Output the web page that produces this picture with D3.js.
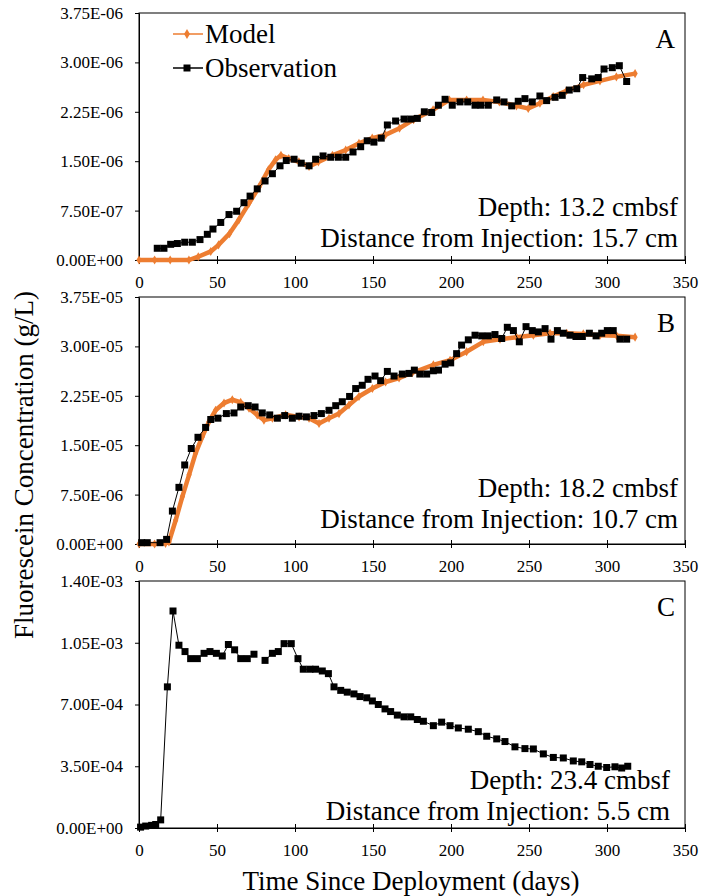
<!DOCTYPE html>
<html>
<head>
<meta charset="utf-8">
<script src="https://cdn.jsdelivr.net/npm/d3@7/dist/d3.min.js"></script>
<style>
body { margin:0; background:#fff; }
.axis path, .axis line { stroke:#000; stroke-width:1; }
</style>
</head>
<body>
<script>
// [day, concentration] ; A in 1e-6 g/L, B in 1e-5 g/L, C in 1e-3 g/L
var obsA = [[11.7,0.178],[16,0.178],[20.3,0.238],[24.6,0.25],[29.3,0.27],[34.2,0.27],[39.1,0.31],[43.8,0.39],[47.4,0.47],[52.4,0.57],
    [57.7,0.69],[62.6,0.74],[67.3,0.87],[71.2,0.97],[75.8,1.08],[80.8,1.20],[85.5,1.31],[90.4,1.43],[94.4,1.51],[99.4,1.53],
    [104,1.47],[109,1.43],[113.2,1.53],[118,1.58],[122.9,1.56],[127.8,1.56],[132.5,1.56],[137.2,1.64],[142.1,1.72],[146.3,1.81],
    [150.6,1.79],[155.3,1.85],[159.2,2.05],[164.5,2.11],[169.9,2.14],[174.2,2.14],[178.4,2.15],[182.9,2.25],[187.6,2.24],[191.9,2.35],
    [196.2,2.44],[200.8,2.35],[205.8,2.40],[210.7,2.40],[215.4,2.35],[219.2,2.35],[223.9,2.35],[229.3,2.43],[234,2.40],[238.9,2.34],
    [243.1,2.41],[247.4,2.45],[252.1,2.40],[257,2.49],[261.3,2.42],[266.7,2.47],[271.3,2.50],[275.8,2.58],[280.6,2.60],[284.4,2.77],
    [290.2,2.75],[294.4,2.77],[298.1,2.90],[303.4,2.92],[307.9,2.95],[312.6,2.71]];
var modelA = [[0,0],[10,0],[20,0],[32,0],[38,0.05],[46,0.13],[51,0.23],[58,0.40],[64,0.61],[70.5,0.86],[77,1.11],[83,1.37],
    [87.5,1.52],[91,1.59],[96,1.54],[102.5,1.49],[109,1.42],[115,1.49],[124,1.59],[132.5,1.67],[141,1.77],[149.5,1.85],[158,1.90],
    [167,2.00],[176,2.13],[188.5,2.28],[199,2.43],[210,2.43],[220.5,2.43],[231,2.40],[242,2.34],[249.5,2.30],[257,2.38],[265.5,2.48],
    [274,2.57],[285,2.66],[295.5,2.72],[306,2.78],[318,2.83]];

var obsB = [[1.7,0.02],[5.3,0.02],[13.5,0.02],[17.7,0.07],[21.4,0.50],[25.6,0.86],[29.3,1.20],[33.5,1.45],[37.8,1.62],[42.7,1.77],
    [46,1.89],[50.6,1.91],[56,1.98],[60.9,1.99],[65.2,2.08],[70,2.10],[74.4,2.08],[79,1.99],[83.8,1.96],[88.7,1.91],[93.4,1.95],
    [98.3,1.91],[102.6,1.94],[107.3,1.93],[112.2,1.95],[116.9,1.98],[121.8,2.03],[126.1,2.10],[130.3,2.16],[135,2.24],[138.9,2.36],
    [143.1,2.41],[146.8,2.50],[151.3,2.55],[154.9,2.48],[159.2,2.62],[163.5,2.55],[168.8,2.58],[173.1,2.59],[176.5,2.64],[180,2.58],
    [184.4,2.58],[188.7,2.63],[192,2.64],[196.2,2.73],[199.8,2.75],[203.6,2.89],[206.8,3.02],[211.1,3.10],[215.4,3.17],[219.7,3.16],
    [223.9,3.16],[228.2,3.18],[232.5,3.12],[236.1,3.29],[240,3.24],[243.8,3.07],[248.1,3.30],[252.1,3.24],[256,3.22],[260.3,3.27],
    [264.1,3.11],[268.2,3.24],[272,3.20],[276.3,3.17],[280.1,3.15],[284.2,3.15],[288.7,3.20],[293,3.16],[296.6,3.20],[300.2,3.24],
    [304,3.24],[308.3,3.11],[312.6,3.11]];
var modelB = [[0,0],[10,0],[17,0.01],[19.2,0.03],[23.5,0.36],[27.8,0.72],[32.1,1.05],[36.3,1.38],[40.6,1.63],[44.9,1.86],[49.1,2.03],
    [54.5,2.14],[59.8,2.19],[65.2,2.15],[70.5,2.06],[75.8,1.96],[80.1,1.88],[85.5,1.91],[94,1.96],[102.6,1.93],[109,1.91],[115.4,1.83],
    [121.8,1.91],[128.2,1.98],[134.6,2.11],[141,2.24],[149.6,2.36],[158.1,2.46],[166.7,2.52],[175.2,2.60],[188.7,2.72],[199.4,2.79],
    [210,2.92],[220.7,3.07],[231.4,3.11],[242,3.14],[252.8,3.17],[263.5,3.20],[274.2,3.20],[284.8,3.19],[295.5,3.17],[306.2,3.16],[318,3.14]];

var obsC = [[1,0.005],[4.3,0.011],[8.1,0.015],[10.7,0.02],[13.9,0.046],[18.2,0.80],[21.8,1.23],[25.6,1.036],[29.5,1.00],[33.1,0.96],
    [37.4,0.96],[41.7,0.99],[45.5,1.00],[49.6,0.99],[53.4,0.975],[57.3,1.04],[61.3,1.01],[65.2,0.96],[69.4,0.96],[73.7,0.985],[77,null],
    [80.8,0.95],[85.5,0.99],[89.3,1.00],[93,1.045],[97.6,1.045],[101.9,0.96],[105.3,0.90],[109.6,0.90],[113.2,0.90],[117.5,0.89],
    [121.4,0.875],[125,0.80],[129.3,0.78],[133.5,0.77],[137.8,0.76],[141.7,0.745],[146,0.738],[149.6,0.72],[153.4,0.70],[157.7,0.675],
    [161.3,0.66],[165.6,0.64],[169.9,0.63],[174.2,0.63],[178.4,0.615],[182.3,0.605],[188.7,0.58],[194,0.60],[199.4,0.58],[204.7,0.567],
    [211.1,0.56],[217.5,0.546],[222.9,0.52],[229.3,0.505],[234.6,0.49],[241,0.46],[247.4,0.45],[252.8,0.448],[259.2,0.42],[265.6,0.40],
    [272,0.397],[278.4,0.38],[283.8,0.375],[289.1,0.36],[294.4,0.35],[299.8,0.343],[305.1,0.347],[309.4,0.34],[313.3,0.35]];

var xTicks  = [0,50,100,150,200,250,300,350];
var yTicksAB = [0,0.75,1.5,2.25,3,3.75];
var yTicksC  = [0,0.35,0.7,1.05,1.4];
var panelLetters = ["A","B","C"];
var depthLabels  = ["Depth: 13.2 cmbsf","Depth: 18.2 cmbsf","Depth: 23.4 cmbsf"];
var distLabels   = ["Distance from Injection: 15.7 cm","Distance from Injection: 10.7 cm","Distance from Injection: 5.5 cm"];

var serif = "Liberation Serif, DejaVu Serif, serif";
var orange = "#ED7D31";
var left = 139, right = 685, ph = 247;
var tops = [13, 297, 581];

var svg = d3.select("body").append("svg").attr("width", 704).attr("height", 896);

function fmtE(v) {
    var s = v.toExponential(2).toUpperCase();
    var parts = s.split("E");
    var sign = parts[1].charAt(0), digits = parts[1].slice(1);
    if (digits.length < 2) digits = "0" + digits;
    return parts[0] + "E" + sign + digits;
}

function renderPanel(i, obs, model, yTicks, unit, noteX, noteY) {

    var x = d3.scaleLinear().domain([0,350]).range([0, right-left]);
    var y = d3.scaleLinear().domain([0, yTicks[yTicks.length-1]]).range([ph, 0]);

    var g = svg.append("g").attr("transform", "translate("+left+","+tops[i]+")");

    g.append("rect").attr("width", right-left).attr("height", ph).attr("fill","none").attr("stroke","#000").attr("stroke-width",1);

    var xAxis = d3.axisBottom(x).tickValues(xTicks).tickSizeInner(4).tickSizeOuter(0).tickPadding(12);
    var yAxis = d3.axisLeft(y).tickValues(yTicks).tickSizeInner(4).tickSizeOuter(0).tickPadding(12)
                    .tickFormat(function(d){ return fmtE(d*unit); });

    var gx = g.append("g").attr("class","x axis").attr("transform","translate(0,"+ph+")").call(xAxis);
    gx.selectAll(".tick line").attr("y1",-4);
    var gy = g.append("g").attr("class","y axis").call(yAxis);
    gx.attr("font-family", serif).attr("font-size", 17);
    gy.attr("font-family", serif).attr("font-size", 17);

    var line = d3.line().defined(function(d){ return d[1] !== null; })
                        .x(function(d){ return x(d[0]); })
                        .y(function(d){ return y(d[1]); });

    if (model) {
        g.append("path").attr("d", line(model)).attr("fill","none").attr("stroke",orange).attr("stroke-width",4.5);
        g.append("g").selectAll("path").data(model).enter().append("path")
            .attr("d", d3.symbol().type(d3.symbolDiamond).size(24))
            .attr("transform", function(d){ return "translate("+x(d[0])+","+y(d[1])+")"; })
            .attr("fill", orange);
    }

    g.append("path").attr("d", line(obs)).attr("fill","none").attr("stroke","#000").attr("stroke-width",1);
    g.append("g").selectAll("path").data(obs.filter(function(d){ return d[1] !== null; })).enter().append("path")
        .attr("d", d3.symbol().type(d3.symbolSquare).size(49))
        .attr("transform", function(d){ return "translate("+x(d[0])+","+y(d[1])+")"; })
        .attr("fill", "#000");

    addText(675, tops[i]+35, panelLetters[i], "end");
    addText(noteX, tops[i]+noteY[0], depthLabels[i], "end");
    addText(noteX, tops[i]+noteY[1], distLabels[i], "end");
}

function addText(x, y, text, anchor) {
    return svg.append("text").attr("x",x).attr("y",y).attr("text-anchor",anchor || "start")
              .attr("font-family", serif).attr("font-size", 27).attr("fill","#000").text(text);
}

renderPanel(0, obsA, modelA, yTicksAB, 1e-6, 678, [203, 234]);
renderPanel(1, obsB, modelB, yTicksAB, 1e-5, 678, [200, 231]);
renderPanel(2, obsC, null,   yTicksC,  1e-3, 670, [208, 239]);

// legend
svg.append("line").attr("x1",173).attr("y1",34).attr("x2",203).attr("y2",34).attr("stroke",orange).attr("stroke-width",1.5);
svg.append("path").attr("d", d3.symbol().type(d3.symbolDiamond).size(30)).attr("transform","translate(187,34)").attr("fill",orange);
addText(205, 43, "Model");
svg.append("line").attr("x1",173).attr("y1",68).attr("x2",203).attr("y2",68).attr("stroke","#000").attr("stroke-width",1.5);
svg.append("path").attr("d", d3.symbol().type(d3.symbolSquare).size(49)).attr("transform","translate(187,68)").attr("fill","#000");
addText(205, 77, "Observation");

// axis titles
addText(411, 890, "Time Since Deployment (days)", "middle");
addText(0, 0, "Fluorescein Concentration (g/L)", "middle").attr("transform","translate(33,465) rotate(-90)");
</script>
</body>
</html>
